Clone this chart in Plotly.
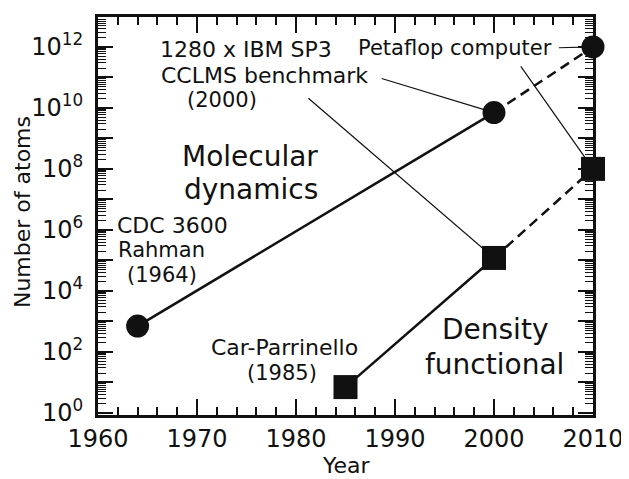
import numpy as np
import plotly.graph_objects as go

# ---- data ----
md_years = [1964, 2000, 2010]
md_atoms = [7e2, 7e9, 1e12]
dft_years = [1985, 2000, 2010]
dft_atoms = [7, 1.2e5, 1e8]

x_major = list(range(1960, 2011, 10))
x_minor = list(range(1960, 2011, 2))
y_major_exp = list(range(0, 13))
y_labels = [f"10<sup>{k}</sup>" if k % 2 == 0 else "" for k in y_major_exp]
y_minor = [m * 10.0 ** k for k in range(0, 13) for m in range(2, 10)]

FONT = "DejaVu Sans"
INK = "#111111"
X_RANGE = [1960, 2010]
Y_RANGE = [-0.07, 12.98]

fig = go.Figure()

def add_series(xs, ys, symbol, size):
    fig.add_trace(go.Scatter(x=xs[:2], y=ys[:2], mode="lines",
                             line=dict(color=INK, width=2.5), showlegend=False))
    fig.add_trace(go.Scatter(x=xs[1:], y=ys[1:], mode="lines",
                             line=dict(color=INK, width=2.5, dash="10px,6px"), showlegend=False))
    fig.add_trace(go.Scatter(x=xs, y=ys, mode="markers", cliponaxis=False,
                             marker=dict(symbol=symbol, size=size, color=INK), showlegend=False))

add_series(md_years, md_atoms, "circle", 23)
add_series(dft_years, dft_atoms, "square", 24)

L = np.log10

# leader lines (annotation arrows from label to data point)
leaders = [
    (md_years[1], L(md_atoms[1]), 1988.5, 10.98),
    (dft_years[1], L(dft_atoms[1]), 1981.1, 10.36),
    (md_years[2], L(md_atoms[2]), 2006.4, 11.97),
    (dft_years[2], L(dft_atoms[2]), 2002.6, 11.41),
]
for x, y, ax, ay in leaders:
    fig.add_annotation(x=x, y=y, ax=ax, ay=ay, axref="x", ayref="y", text="",
                       showarrow=True, arrowhead=0, arrowwidth=1.2, arrowcolor=INK,
                       standoff=0, startstandoff=0)

labels = [
    ("1280 x IBM SP3", 1974.95, 11.9, 22),
    ("CCLMS benchmark", 1976.8, 11.05, 22),
    ("(2000)", 1972.5, 10.26, 21),
    ("Petaflop computer", 1996.06, 11.97, 21),
    ("Molecular", 1975.35, 8.39, 28),
    ("dynamics", 1975.45, 7.34, 28),
    ("CDC 3600", 1967.5, 6.13, 22),
    ("Rahman", 1966.4, 5.34, 21),
    ("(1964)", 1966.5, 4.52, 21),
    ("Car-Parrinello", 1978.8, 2.13, 22),
    ("(1985)", 1978.6, 1.31, 21),
    ("Density", 2000.1, 2.72, 28),
    ("functional", 2000.1, 1.6, 28),
]
for t, x, y, s in labels:
    fig.add_annotation(x=x, y=y, text=t, showarrow=False, xanchor="center", yanchor="middle",
                       font=dict(family=FONT, size=s, color=INK))

# axis titles as paper annotations (no margin push)
fig.add_annotation(text="Year", xref="paper", yref="paper", x=0.503, y=-0.128,
                   showarrow=False, xanchor="center", yanchor="middle",
                   font=dict(family=FONT, size=22, color=INK))
fig.add_annotation(text="Number of atoms", xref="paper", yref="paper", x=-0.1535, y=0.51,
                   textangle=-90, showarrow=False, xanchor="center", yanchor="middle",
                   font=dict(family=FONT, size=22, color=INK))

fig.update_layout(
    xaxis=dict(range=X_RANGE, tickmode="array", tickvals=x_major,
               ticks="inside", ticklen=16, tickwidth=1.5, tickcolor=INK,
               showline=True, linewidth=3, linecolor=INK, mirror="ticks",
               showgrid=False, zeroline=False, automargin=False,
               tickfont=dict(family=FONT, size=24, color=INK),
               minor=dict(tickmode="array", tickvals=x_minor, ticks="inside", ticklen=8,
                          tickwidth=1.5, tickcolor=INK, showgrid=False)),
    yaxis=dict(type="log", range=Y_RANGE, tickmode="array",
               tickvals=[10.0 ** k for k in y_major_exp], ticktext=y_labels,
               ticks="inside", ticklen=15, tickwidth=1.5, tickcolor=INK,
               showline=True, linewidth=3, linecolor=INK, mirror="ticks",
               showgrid=False, zeroline=False, automargin=False, ticklabelstandoff=7,
               tickfont=dict(family=FONT, size=24, color=INK),
               minor=dict(tickmode="array", tickvals=y_minor, ticks="inside", ticklen=8,
                          tickwidth=1.2, tickcolor=INK, showgrid=False)),
    width=621, height=471, margin=dict(l=90, r=36, t=9, b=64),
    plot_bgcolor="white", paper_bgcolor="white", showlegend=False)

fig.write_html("out.html")
